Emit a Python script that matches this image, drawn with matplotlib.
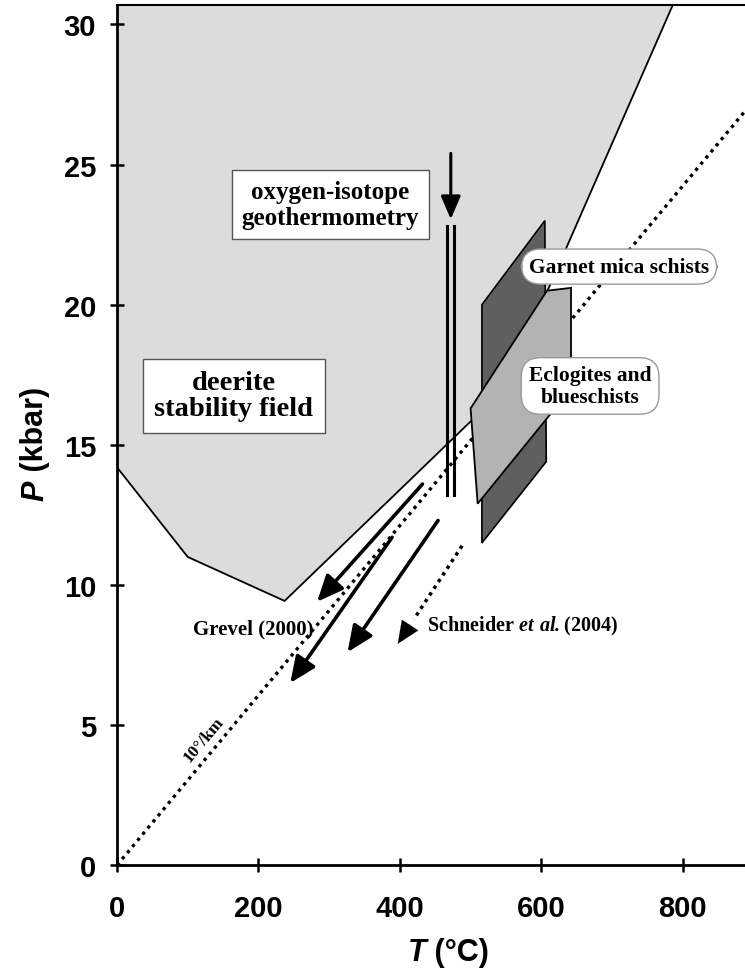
import matplotlib
matplotlib.use("Agg")
import matplotlib.pyplot as plt
from matplotlib.patches import Polygon

plt.rcParams['mathtext.fontset'] = 'custom'
plt.rcParams['mathtext.rm'] = 'Liberation Serif:bold'
plt.rcParams['mathtext.bf'] = 'Liberation Serif:bold'
plt.rcParams['mathtext.bfit'] = 'Liberation Serif:italic:bold'

# --- data (T in degC, P in kbar) ---
field_T = [0, 0, 100, 237, 548, 786]
field_P = [30.7, 14.2, 11.0, 9.43, 17.0, 30.7]

garnet_T = [516, 605, 607, 516]
garnet_P = [20.0, 23.0, 14.4, 11.5]

eclog_T = [500, 608, 642, 642, 510]
eclog_P = [16.3, 20.5, 20.6, 17.0, 12.9]

geotherm_T = [0, 900]
geotherm_P = [0, 27.27]

# oxygen-isotope double line and arrow
iso_T = [467, 477]
iso_P = [13.2, 22.8]
iso_arrow = (472, 25.4, 472, 23.05)

# Grevel (2000) solid arrows: (T0, P0, T1, P1)
grevel_arrows = [(432, 13.6, 283, 9.4),
                 (389, 11.7, 245, 6.5),
                 (454, 12.3, 326, 7.6)]
# Schneider et al. (2004) dotted arrow
schneider_arrow = (488, 11.4, 397, 7.9)

xticks = [0, 200, 400, 600, 800]
yticks = [0, 5, 10, 15, 20, 25, 30]

serif = 'Liberation Serif'
sans = 'Liberation Sans'

fig = plt.figure(figsize=(7.45, 9.7), dpi=100)
ax = fig.add_axes([0.157, 0.107, 0.843, 0.887])
ax.set_xlim(0, 888)
ax.set_ylim(0, 30.7)

# deerite stability field
ax.add_patch(Polygon(list(zip(field_T, field_P)), closed=True,
                     fc='#dcdcdc', ec='black', lw=1.3, zorder=1))

# 10 deg/km geotherm
ax.plot(geotherm_T, geotherm_P, ls=(0, (1, 1.4)), color='black', lw=2.4, zorder=2)

# rock boxes
ax.add_patch(Polygon(list(zip(garnet_T, garnet_P)), closed=True,
                     fc='#5f5f5f', ec='black', lw=1.2, zorder=3))
ax.add_patch(Polygon(list(zip(eclog_T, eclog_P)), closed=True,
                     fc='#b3b3b3', ec='black', lw=1.3, zorder=4))

# oxygen-isotope double line + arrow
for t in iso_T:
    ax.plot([t, t], iso_P, color='black', lw=2.2, zorder=5)
t0, p0, t1, p1 = iso_arrow
ax.annotate('', xy=(t1, p1), xytext=(t0, p0), zorder=5,
            arrowprops=dict(arrowstyle='-|>,head_length=1.4,head_width=0.6',
                            color='black', lw=2.2, shrinkA=0, shrinkB=0))

# exhumation arrows
for t0, p0, t1, p1 in grevel_arrows:
    ax.annotate('', xy=(t1, p1), xytext=(t0, p0), zorder=5,
                arrowprops=dict(arrowstyle='-|>,head_length=1.6,head_width=0.7',
                                color='black', lw=2.6, shrinkA=0, shrinkB=0))
t0, p0, t1, p1 = schneider_arrow
ax.plot([t0, t1 + 0.25 * (t0 - t1)], [p0, p1 + 0.25 * (p0 - p1)],
        ls=(0, (1, 1.3)), color='black', lw=2.5, zorder=5)
ax.annotate('', xy=(t1, p1), xytext=(t1 + 0.2 * (t0 - t1), p1 + 0.2 * (p0 - p1)), zorder=5,
            arrowprops=dict(arrowstyle='-|>,head_length=1.6,head_width=0.7',
                            color='black', lw=0.1, shrinkA=0, shrinkB=0))

# labels
sq = dict(boxstyle='square,pad=0.4', fc='white', ec='#555555', lw=1.0)
rd = dict(boxstyle='round,pad=0.35,rounding_size=0.9', fc='white', ec='#999999', lw=1.0)
ax.text(302, 23.57, 'oxygen-isotope\ngeothermometry', family=serif, weight='bold',
        fontsize=18, ha='center', va='center', linespacing=1.2, bbox=sq, zorder=6)
ax.text(165, 16.75, 'deerite\nstability field', family=serif, weight='bold',
        fontsize=20.5, ha='center', va='center', linespacing=1.05, bbox=sq, zorder=6)
ax.text(710, 21.36, 'Garnet mica schists', family=serif, weight='bold',
        fontsize=15.5, ha='center', va='center', bbox=rd, zorder=6)
ax.text(669, 17.1, 'Eclogites and\nblueschists', family=serif, weight='bold',
        fontsize=15.5, ha='center', va='center', linespacing=1.1, bbox=rd, zorder=6)
ax.text(193, 8.43, 'Grevel (2000)', family=serif, weight='bold',
        fontsize=15, ha='center', va='center', zorder=6)
ax.text(574, 8.54, r'Schneider $\mathbfit{et\ al.}$(2004)', family=serif, weight='bold',
        fontsize=14.5, ha='center', va='center', zorder=6)
ax.text(123, 4.5, '10°/km', family=serif, weight='bold', fontsize=12.5,
        rotation=50, ha='center', va='center', zorder=6)

# axes styling
ax.spines['right'].set_visible(False)
ax.spines['left'].set_linewidth(2)
ax.spines['bottom'].set_linewidth(2)
ax.spines['top'].set_linewidth(1.5)
ax.set_xticks(xticks)
ax.set_yticks(yticks)
ax.tick_params(direction='inout', length=10, width=1.8, top=False, right=False)
ax.tick_params(axis='x', pad=16)
ax.tick_params(axis='y', pad=10)
for lab in ax.get_xticklabels() + ax.get_yticklabels():
    lab.set_family(sans)
    lab.set_fontweight('bold')
    lab.set_fontsize(21)

# axis titles: italic symbol + upright unit
fig.text(0.572, 0.009, 'T', family=sans, weight='bold', style='italic',
         fontsize=22, ha='right', va='baseline')
fig.text(0.572, 0.009, ' (°C)', family=sans, weight='bold',
         fontsize=22, ha='left', va='baseline')
fig.text(0.047, 0.505, 'P', family=sans, weight='bold', style='italic',
         fontsize=22, ha='center', va='top', rotation=90)
fig.text(0.047, 0.505, ' (kbar)', family=sans, weight='bold',
         fontsize=22, ha='center', va='bottom', rotation=90)

fig.savefig('out.png', dpi=100)
